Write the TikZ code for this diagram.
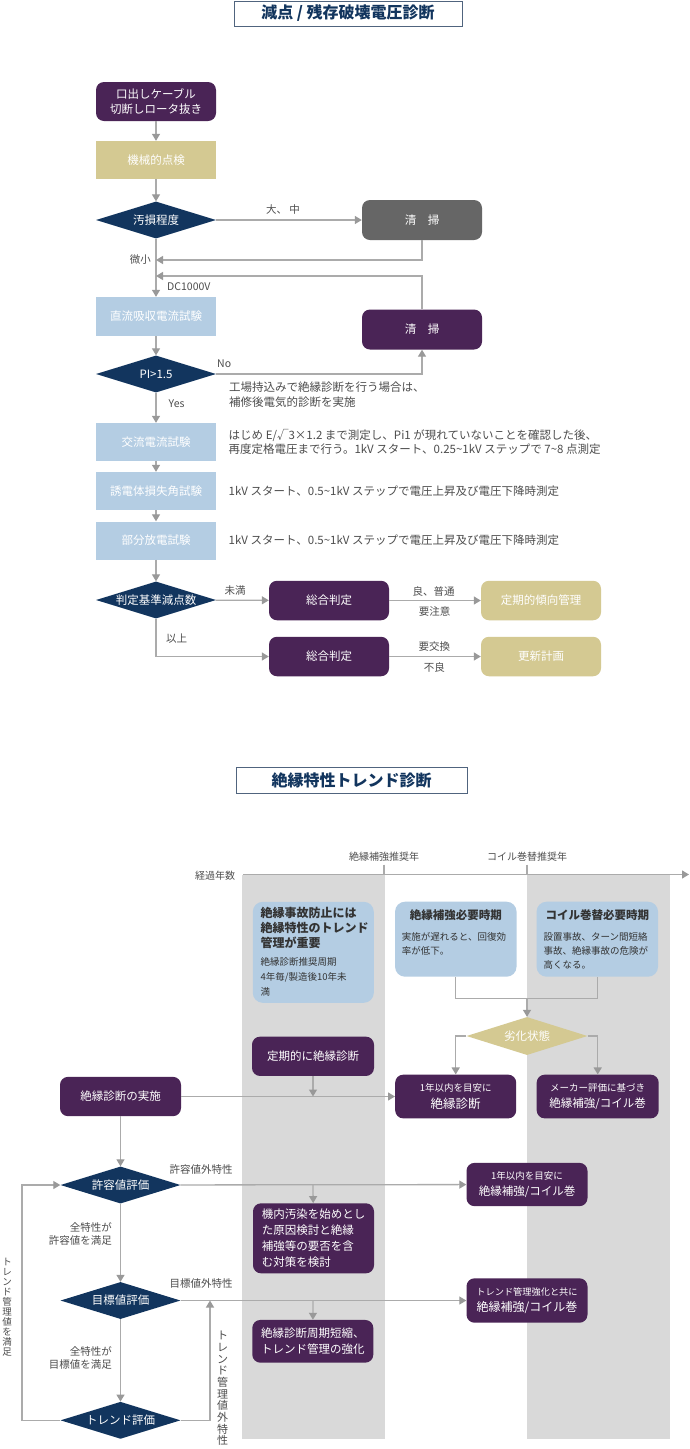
\documentclass[tikz,border=0pt]{standalone}
\usepackage{fontspec}
\setmainfont{Noto Sans CJK JP}
\usetikzlibrary{shapes.geometric,arrows.meta}

\definecolor{plum}{HTML}{4A2456}
\definecolor{navy}{HTML}{12355E}
\definecolor{khaki}{HTML}{D4C992}
\definecolor{pale}{HTML}{B4CDE3}
\definecolor{slate}{HTML}{666666}
\definecolor{band}{HTML}{D9D9D9}
\definecolor{wire}{HTML}{ABABAB}
\definecolor{tip}{HTML}{999999}
\definecolor{ink}{HTML}{4D4D4D}
\definecolor{deep}{HTML}{333333}
\definecolor{frame}{HTML}{50647E}

\newcommand{\fsz}[2]{\fontsize{#1}{#2}\selectfont}

\begin{document}
\begin{tikzpicture}[x=1pt,y=-1pt,
  every node/.style={font=\fsz{11.5}{14.5}},
  unit/.style={minimum width=120pt,minimum height=38pt,inner sep=0pt,align=center,text=white},
  plumbox/.style={unit,fill=plum,rounded corners=8pt},
  slatebox/.style={unit,fill=slate,rounded corners=8pt},
  khakibox/.style={unit,fill=khaki},
  palebox/.style={unit,fill=pale},
  decision/.style={diamond,aspect=3.2,minimum width=120pt,minimum height=37pt,inner sep=0pt,fill=navy,text=white},
  heading/.style={draw=frame,line width=0.8pt,fill=white,inner sep=0pt,font=\bfseries\fsz{16}{18},text=navy},
  lbl/.style={font=\fsz{10.5}{13},text=ink,inner sep=0pt},
  note/.style={font=\fsz{11.5}{14.5},text=ink,align=left,inner sep=0pt,anchor=west},
  wire/.style={draw=wire,line width=1.3pt},
  arr/.style={wire,-{Triangle[width=8pt,length=7pt,color=tip]}},
  ]
  \fill[white] (0,0) rectangle (690,1449);
  \useasboundingbox (0,0) rectangle (690,1449);

  % --- 減点 / 残存破壊電圧診断 ---
  \node[heading,minimum width=228pt,minimum height=25pt] (head1) at (348,13.5) {減点 / 残存破壊電圧診断};

  \node[plumbox,minimum height=39pt] (cable) at (156,101.5) {口出しケーブル\\切断しロータ抜き};
  \node[khakibox] (mech) at (156,160) {機械的点検};
  \node[decision] (soil) at (156,220) {汚損程度};
  \node[slatebox,minimum height=40pt] (clean1) at (422,220) {清　掃};
  \node[palebox,minimum height=39pt] (dcabs) at (156,316.5) {直流吸収電流試験};
  \node[plumbox,minimum height=40pt] (clean2) at (422,329.5) {清　掃};
  \node[decision] (pi) at (156,374) {PI>1.5};
  \node[palebox] (acc) at (156,442) {交流電流試験};
  \node[palebox] (tand) at (156,491) {誘電体損失角試験};
  \node[palebox] (pd) at (156,540.5) {部分放電試験};
  \node[decision] (score) at (156,600) {判定基準減点数};
  \node[plumbox,minimum height=39.5pt] (judge1) at (329,600.5) {総合判定};
  \node[khakibox,rounded corners=8pt,minimum height=39.5pt] (trend) at (541,600.5) {定期的傾向管理};
  \node[plumbox,minimum height=39.5pt] (judge2) at (329,656.5) {総合判定};
  \node[khakibox,rounded corners=8pt,minimum height=39.5pt] (renew) at (541,656.5) {更新計画};

  \coordinate (j1) at (156,260);
  \coordinate (j2) at (156,276);

  \draw[arr] (cable) -- (mech);
  \draw[arr] (mech) -- (soil);
  \draw[arr] (soil) -- (clean1);
  \draw[arr] (soil) -- (dcabs);
  \draw[arr] (clean1) |- (j1);
  \draw[arr] (clean2) |- (j2);
  \draw[arr] (dcabs) -- (pi);
  \draw[arr] (pi.east) -| (clean2);
  \draw[arr] (pi) -- (acc);
  \draw[arr] (acc) -- (tand);
  \draw[arr] (tand) -- (pd);
  \draw[arr] (pd) -- (score);
  \draw[arr] (score) -- (judge1);
  \draw[arr] (score) |- (judge2);
  \draw[arr] (judge1) -- (trend);
  \draw[arr] (judge2) -- (renew);

  \node[lbl] (large) at (283,209) {大、 中};
  \node[lbl,anchor=east] (minor) at (151,260) {微小};
  \node[lbl,anchor=west] (dcv) at (167,287) {DC1000V};
  \node[lbl,anchor=west] (nolbl) at (217,363.3) {No};
  \node[lbl,anchor=west] (yeslbl) at (168.5,403.3) {Yes};
  \node[note] (factory) at (229,394.5) {工場持込みで絶縁診断を行う場合は、\\補修後電気的診断を実施};
  \node[note] (accnote) at (228.5,442) {はじめ E/√3×1.2 まで測定し、Pi1 が現れていないことを確認した後、\\再度定格電圧まで行う。1kV スタート、0.25\textasciitilde 1kV ステップで 7\textasciitilde 8 点測定};
  \node[note] (tandnote) at (228.5,491) {1kV スタート、0.5\textasciitilde 1kV ステップで電圧上昇及び電圧下降時測定};
  \node[note] (pdnote) at (228.5,540.5) {1kV スタート、0.5\textasciitilde 1kV ステップで電圧上昇及び電圧下降時測定};
  \node[lbl] (below) at (235,590.7) {未満};
  \node[lbl] (above) at (176.7,638.3) {以上};
  \node[lbl] (good) at (433.5,591) {良、普通};
  \node[lbl] (caution) at (434.5,611.7) {要注意};
  \node[lbl] (swap) at (434.3,646.7) {要交換};
  \node[lbl] (bad) at (434.3,667.3) {不良};

  % --- 絶縁特性トレンド診断 ---
  \node[heading,minimum width=231pt,minimum height=25.6pt] (head2) at (351.5,780.5) {絶縁特性トレンド診断};

  \fill[band] (242,875) rectangle (385,1439);
  \fill[band] (527,875) rectangle (670,1439);

  \coordinate (ax0) at (243,874.5);
  \coordinate (ax1) at (689,874.5);
  \draw[arr] (ax0) -- (ax1);
  \draw[wire] (384,864.5) -- (384,874.5);
  \draw[wire] (527,864.5) -- (527,874.5);
  \node[lbl,font=\fsz{10}{12}] (elapsed) at (215,876) {経過年数};
  \node[lbl,font=\fsz{10}{12}] (reinf) at (384,856.5) {絶縁補強推奨年};
  \node[lbl,font=\fsz{10}{12}] (rewind) at (527,856.5) {コイル巻替推奨年};

  \node[palebox,rounded corners=10pt,minimum width=121pt,minimum height=101pt] (keep) at (313.3,952.3) {};
  \node[note,anchor=north west,font=\bfseries\fsz{12}{15},text=deep] (keephead) at (260.5,907.5) {絶縁事故防止には\\絶縁特性のトレンド\\管理が重要};
  \node[note,anchor=north west,font=\fsz{9.5}{15},text=deep] (keepbody) at (260.5,957.4) {絶縁診断推奨周期\\4年毎/製造後10年未\\満};

  \node[palebox,rounded corners=10pt,minimum width=121.5pt,minimum height=75pt] (need) at (455.8,939.2) {};
  \node[lbl,font=\bfseries\fsz{11.5}{14},text=deep] (needhead) at (455.8,915) {絶縁補強必要時期};
  \node[note,anchor=north west,font=\fsz{9.5}{13.5},text=deep] (needbody) at (401.7,932.4) {実施が遅れると、回復効\\率が低下。};

  \node[palebox,rounded corners=10pt,minimum width=121.5pt,minimum height=75pt] (coil) at (597.3,939.2) {};
  \node[lbl,font=\bfseries\fsz{11.5}{14},text=deep] (coilhead) at (597.3,915) {コイル巻替必要時期};
  \node[note,anchor=north west,font=\fsz{9.5}{14},text=deep] (coilbody) at (543.3,932.4) {設置事故、ターン間短絡\\事故、絶縁事故の危険が\\高くなる。};

  \node[decision,fill=khaki,minimum width=121pt,minimum height=38pt] (deter) at (527,1036) {劣化状態};
  \node[plumbox,minimum width=122pt,minimum height=39.3pt] (periodic) at (313,1056.3) {定期的に絶縁診断};
  \node[plumbox,minimum width=121pt,minimum height=39.3pt] (impl) at (120.5,1096.5) {絶縁診断の実施};
  \node[plumbox,minimum width=121pt,minimum height=43.7pt] (within1) at (455.7,1096.5) {\fsz{9.5}{12}1年以内を目安に\\[2pt]\fsz{12.5}{14}絶縁診断};
  \node[plumbox,minimum width=122pt,minimum height=43.7pt] (maker) at (597.7,1096.5) {\fsz{9.5}{12}メーカー評価に基づき\\[2pt]\fsz{11.5}{14}絶縁補強/コイル巻};

  \node[decision] (tol) at (120.5,1185) {許容値評価};
  \node[plumbox,minimum width=121pt,minimum height=43.3pt] (within2) at (527,1184.5) {\fsz{9.5}{12}1年以内を目安に\\[2pt]\fsz{11.5}{14}絶縁補強/コイル巻};
  \node[plumbox,minimum width=121pt,minimum height=70pt,align=left,font=\fsz{11.5}{15.9}] (cause) at (313.5,1238.3) {機内汚染を始めとし\\た原因検討と絶縁\\補強等の要否を含\\む対策を検討};

  \node[decision] (target) at (120.5,1300.5) {目標値評価};
  \node[plumbox,minimum width=121pt,minimum height=44.4pt] (trendup) at (527,1300.5) {\fsz{9.2}{12}トレンド管理強化と共に\\[2pt]\fsz{12}{14}絶縁補強/コイル巻};
  \node[plumbox,minimum width=121pt,minimum height=42.7pt,align=left,font=\fsz{11.5}{16}] (shorten) at (312.8,1341.3) {絶縁診断周期短縮、\\トレンド管理の強化};

  \node[decision] (treval) at (120.5,1420.3) {トレンド評価};

  \coordinate (merge) at (527,998.3);
  \coordinate (hit1) at (313,1096.5);
  \coordinate (hit2) at (313,1185);
  \coordinate (hit3) at (313,1300.5);
  \coordinate (hit4) at (210,1300.5);
  \coordinate (loop) at (22,1420.3);

  \draw[wire] (need) |- (merge) -| (coil);
  \draw[arr] (merge) -- (deter);
  \draw[arr] (deter.west) -| (within1);
  \draw[arr] (deter.east) -| (maker);
  \draw[arr] (impl) -- (within1);
  \draw[arr] (periodic) -- (hit1);
  \draw[arr] (impl) -- (tol);
  \draw[arr] (tol) -- (within2);
  \draw[arr] (hit2) -- (cause);
  \draw[arr] (tol) -- (target);
  \draw[arr] (target) -- (trendup);
  \draw[arr] (hit3) -- (shorten);
  \draw[arr] (target) -- (treval);
  \draw[arr] (treval.east) -| (hit4);
  \draw[arr] (treval.west) -- (loop) |- (tol.west);

  \node[lbl,anchor=west] (outtol) at (169.4,1169) {許容値外特性};
  \node[lbl,align=right,anchor=east] (oktol) at (112,1234) {全特性が\\許容値を満足};
  \node[lbl,anchor=west] (outtarget) at (169.4,1283.3) {目標値外特性};
  \node[lbl,align=right,anchor=east] (oktarget) at (112,1357.5) {全特性が\\目標値を満足};
  \node[lbl,align=center,font=\fsz{11}{11.7}] (trendout) at (222.7,1388.5) {ト\\レ\\ン\\ド\\管\\理\\値\\外\\特\\性};
  \node[lbl,align=center,font=\fsz{9.5}{10}] (trendok) at (7,1307.5) {ト\\レ\\ン\\ド\\管\\理\\値\\を\\満\\足};
\end{tikzpicture}
\end{document}
